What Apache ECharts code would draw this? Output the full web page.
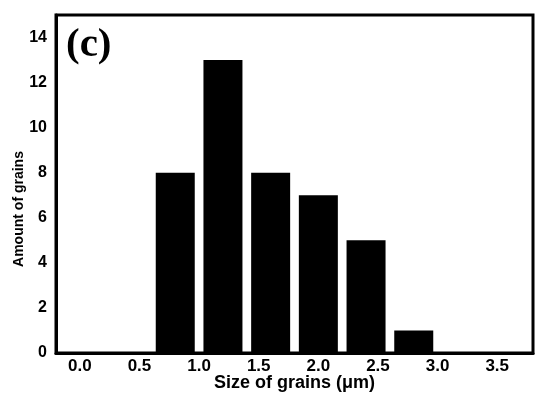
<!DOCTYPE html>
<html><head><meta charset="utf-8">
<script src="https://cdn.jsdelivr.net/npm/echarts@6/dist/echarts.min.js"></script>
<style>html,body{margin:0;padding:0;background:#fff}#c{width:550px;height:398px}</style>
</head><body><div id="c"></div>
<script>
var binCenters = [0.8, 1.2, 1.6, 2.0, 2.4, 2.8];
var counts = [8, 13, 8, 7, 5, 1];
var xTicks = [0, 0.5, 1.0, 1.5, 2.0, 2.5, 3.0, 3.5];
var yTicks = [0, 2, 4, 6, 8, 10, 12, 14];
var xTitle = 'Size of grains (\u03bcm)';
var yTitle = 'Amount of grains';
var panelLabel = '(c)';

var chart = echarts.init(document.getElementById('c'), null, {renderer: 'canvas'});
var font = 'Liberation Sans, Arial, sans-serif';
chart.setOption({
  animation: false,
  backgroundColor: '#fff',
  grid: {left: 56, right: 17, top: 15, bottom: 45, outerBoundsMode: 'none', containLabel: false,
    show: true, borderColor: '#000', borderWidth: 3, backgroundColor: 'transparent'},
  xAxis: {
    type: 'value', min: -0.2, max: 3.8,
    axisLine: {show: true, onZero: false, lineStyle: {color: '#000', width: 3}},
    axisTick: {show: false},
    splitLine: {show: false},
    axisLabel: {customValues: xTicks, color: '#000', fontFamily: font, fontWeight: 'bold', fontSize: 17, margin: 5,
      formatter: function (v) { return v.toFixed(1); }},
    name: xTitle, nameLocation: 'middle', nameGap: 21, nameMoveOverlap: false,
    nameTextStyle: {color: '#000', fontFamily: font, fontWeight: 'bold', fontSize: 18}
  },
  yAxis: {
    type: 'value', min: 0, max: 15,
    axisLine: {show: true, onZero: false, lineStyle: {color: '#000', width: 3}},
    axisTick: {show: false},
    splitLine: {show: false},
    axisLabel: {customValues: yTicks, color: '#000', fontFamily: font, fontWeight: 'bold', fontSize: 16, margin: 9}
  },
  graphic: [
    {type: 'text', rotation: Math.PI / 2, x: 19, y: 209,
      style: {text: yTitle, fill: '#000', font: 'bold 14px ' + font, textAlign: 'center', textVerticalAlign: 'middle'}},
    {type: 'text', x: 66, y: 25,
      style: {text: panelLabel, fill: '#000', font: 'bold 41px Liberation Serif, Times New Roman, serif'}}
  ],
  series: [{
    type: 'bar',
    data: binCenters.map(function (x, i) { return [x, counts[i]]; }),
    barWidth: 39,
    itemStyle: {color: '#000'}
  }]
});
</script></body></html>
